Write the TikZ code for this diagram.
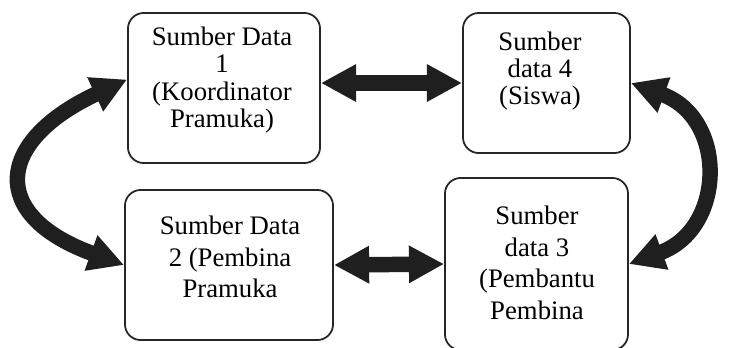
\documentclass[tikz,border=0pt]{standalone}
\usepackage{fontspec}
\setmainfont{Liberation Serif}
\usepackage{tikz}
\usetikzlibrary{arrows.meta, positioning}

\tikzset{
  sumberbox/.style={draw=black!85, line width=0.5pt, rounded corners=4.5pt, fill=white},
  sumbertxt/.style={align=center, inner sep=0pt, font=\fontsize{7.6}{9}\selectfont},
  sumbertop/.style={sumbertxt, font=\fontsize{7.6}{7.8}\selectfont},
  alur/.style={line width=4.4pt, draw=black!88,
    {Triangle[length=10pt,width=10pt]}-{Triangle[length=10pt,width=10pt]}}
}

\begin{document}
\begin{tikzpicture}[x=0.01cm, y=0.01cm]
\useasboundingbox (0,0) rectangle (733,347);

% Kotak sumber data
\node[sumberbox, minimum width=1.92cm, minimum height=1.50cm] (koord) at (224,259) {};
\node[sumberbox, minimum width=1.67cm, minimum height=1.40cm] (siswa) at (546.5,264) {};
\node[sumberbox, minimum width=2.08cm, minimum height=1.50cm] (pembina) at (229,82) {};
\node[sumberbox, minimum width=1.83cm, minimum height=1.72cm] (pembantu) at (536.5,83) {};

% Teks
\node[sumbertop] (koordtxt) at (222,267) {Sumber Data\\1\\(Koordinator\\Pramuka)};
\node[sumbertop] (siswatxt) at (540,276) {Sumber\\data 4\\(Siswa)};
\node[sumbertxt] (pembinatxt) at (230,90) {Sumber Data\\2 (Pembina\\Pramuka};
\node[sumbertxt] (pembantutxt) at (537,84) {Sumber\\data 3\\(Pembantu\\Pembina};

% Panah
\draw[alur] (koord.east |- siswa.west) -- (siswa.west);
\draw[alur] (pembina.east) -- (pembantu.west);
\draw[alur] (koord.175) to[out=205, in=160, looseness=2] (pembina.west);
\draw[alur] (siswa.east) to[out=-20, in=20, looseness=1.45] (pembantu.east);

\end{tikzpicture}
\end{document}
